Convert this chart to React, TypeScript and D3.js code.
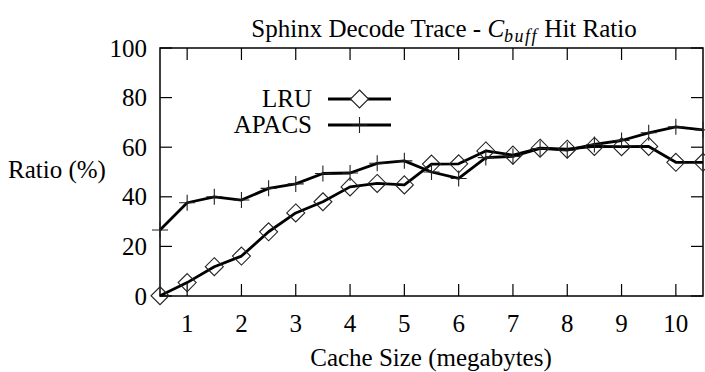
import React, { useEffect } from "react";
import * as d3 from "d3";

const xValues = [0.5, 1, 1.5, 2, 2.5, 3, 3.5, 4, 4.5, 5, 5.5, 6, 6.5, 7, 7.5, 8, 8.5, 9, 9.5, 10, 10.5];
const lruValues = [0.1, 5.4, 11.8, 16.1, 25.9, 33.5, 38.0, 44.0, 45.4, 44.8, 53.2, 53.3, 58.5, 56.8, 59.6, 59.2, 60.3, 60.2, 60.3, 53.9, 53.9];
const apacsValues = [26.6, 37.6, 40.0, 38.7, 43.4, 45.2, 49.4, 49.6, 53.5, 54.5, 50.0, 47.4, 55.8, 56.3, 59.5, 58.8, 61.1, 62.7, 65.8, 68.2, 67.0];
const xTicks = [1, 2, 3, 4, 5, 6, 7, 8, 9, 10];
const yTicks = [0, 20, 40, 60, 80, 100];
const seriesNames = ["LRU", "APACS"];

const W = 705;
const H = 372;
const left = 160;
const right = 703;
const top = 48;
const bottom = 296;
const FS = 25;

const css = `svg text, svg tspan { font-family: "Liberation Serif", "Times New Roman", Times, serif !important; }
body { margin: 0; }`;

export default function App() {
  useEffect(() => {
    const s = document.createElement("style");
    s.textContent = css;
    document.head.appendChild(s);
    document.body.style.margin = "0";
  }, []);
  const x = d3.scaleLinear().domain([0.5, 10.5]).range([left, right]);
  const y = d3.scaleLinear().domain([0, 100]).range([bottom, top]);
  const line = d3
    .line<number>()
    .x((_, i) => x(xValues[i]))
    .y((d) => y(d));
  const tickLen = 12;
  const dm = 9;
  const pm = 8;
  const diamond = (cx: number, cy: number) =>
    `M${cx},${cy - dm}L${cx + dm},${cy}L${cx},${cy + dm}L${cx - dm},${cy}Z`;
  const plus = (cx: number, cy: number) =>
    `M${cx - pm},${cy}H${cx + pm}M${cx},${cy - pm}V${cy + pm}`;

  const legX0 = 328;
  const legX1 = 391;
  const legTextX = 312;
  const legY = [99, 125];
  const ts = { fontFamily: '"Liberation Serif"' };

  return (
    <div style={{ position: "absolute", left: 0, top: 0, width: W, height: H }}>
      <svg width={W} height={H} fontFamily="Liberation Serif">
        <style>{css}</style>
        <rect x={0} y={0} width={W} height={H} fill="#fff" />
        <text x={444} y={37} fontSize={FS} textAnchor="middle" style={ts}>
          Sphinx Decode Trace -{" "}
          <tspan fontStyle="italic">C</tspan>
          <tspan fontStyle="italic" fontSize={18} dy={5} letterSpacing={1.5}>buff</tspan>
          <tspan dy={-5}> Hit Ratio</tspan>
        </text>
        {yTicks.map((t) => (
          <line key={"yl" + t} x1={left} x2={left + tickLen} y1={y(t)} y2={y(t)} stroke="#000" strokeWidth={1.2} />
        ))}
        {yTicks.map((t) => (
          <line key={"yr" + t} x1={right} x2={right - tickLen} y1={y(t)} y2={y(t)} stroke="#000" strokeWidth={1.2} />
        ))}
        {yTicks.map((t) => (
          <text key={"yt" + t} x={147} y={y(t) + 8.5} fontSize={FS} textAnchor="end" style={ts}>
            {String(t)}
          </text>
        ))}
        {xTicks.map((t) => (
          <line key={"xb" + t} x1={x(t)} x2={x(t)} y1={bottom} y2={bottom - tickLen} stroke="#000" strokeWidth={1.2} />
        ))}
        {xTicks.map((t) => (
          <line key={"xt" + t} x1={x(t)} x2={x(t)} y1={top} y2={top + tickLen} stroke="#000" strokeWidth={1.2} />
        ))}
        {xTicks.map((t) => (
          <text key={"xl" + t} x={x(t)} y={332} fontSize={FS} textAnchor="middle" style={ts}>
            {String(t)}
          </text>
        ))}
        <rect x={left} y={top} width={right - left} height={bottom - top} fill="none" stroke="#000" strokeWidth={1.5} />
        <text x={8} y={178} fontSize={FS} style={ts}>
          Ratio (%)
        </text>
        <text x={431} y={366} fontSize={FS} textAnchor="middle" style={ts}>
          Cache Size (megabytes)
        </text>
        <path d={line(lruValues) || ""} fill="none" stroke="#000" strokeWidth={2.8} strokeLinejoin="round" />
        <path d={line(apacsValues) || ""} fill="none" stroke="#000" strokeWidth={2.8} strokeLinejoin="round" />
        {lruValues.map((v, i) => (
          <path key={"l" + i} d={diamond(x(xValues[i]), y(v))} fill="none" stroke="#222" strokeWidth={1.1} />
        ))}
        {apacsValues.map((v, i) => (
          <path key={"a" + i} d={plus(x(xValues[i]), y(v))} fill="none" stroke="#222" strokeWidth={1.1} />
        ))}
        {seriesNames.map((name, k) => (
          <text key={"lt" + name} x={legTextX} y={legY[k] + 8} fontSize={FS} textAnchor="end" style={ts}>
            {name}
          </text>
        ))}
        {seriesNames.map((name, k) => (
          <line key={"ll" + name} x1={legX0} x2={legX1} y1={legY[k]} y2={legY[k]} stroke="#000" strokeWidth={2.8} />
        ))}
        {seriesNames.map((name, k) => (
          <path
            key={"lm" + name}
            d={k === 0 ? diamond((legX0 + legX1) / 2, legY[k]) : plus((legX0 + legX1) / 2, legY[k])}
            fill={k === 0 ? "#fff" : "none"}
            stroke="#222"
            strokeWidth={1.1}
          />
        ))}
      </svg>
    </div>
  );
}
